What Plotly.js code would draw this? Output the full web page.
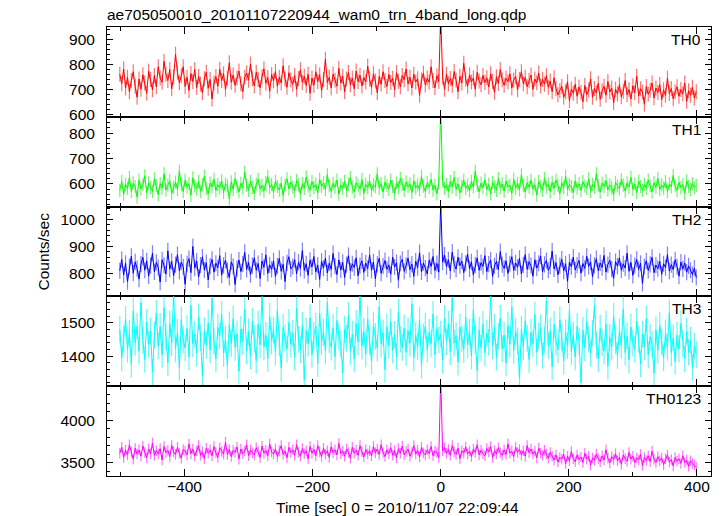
<!DOCTYPE html>
<html>
<head>
<meta charset="utf-8">
<script src="https://cdn.plot.ly/plotly-3.0.1.min.js"></script>
<style>html,body{margin:0;padding:0;background:#fff;}#chart{width:724px;height:516px;}</style>
</head>
<body>
<div id="chart"></div>
<script>
// Time bins: start (s) and bin width (s); 0 = 2010/11/07 22:09:44
const tStart = -501;
const binWidth = 3;

const panelNames = ["TH0", "TH1", "TH2", "TH3", "TH0123"];

const TH0 = [
760,722,781,705,748,690,735,770,712,668,
741,700,758,725,684,772,739,698,755,710,
790,745,728,812,760,735,779,702,750,840,
768,726,754,790,711,748,695,763,731,779,
707,752,720,686,742,768,704,739,661,725,
751,712,780,735,762,700,744,806,728,757,
716,745,773,722,690,748,765,736,801,742,
713,768,739,706,750,782,724,747,692,759,
734,771,712,748,725,794,741,708,766,737,
720,755,700,743,778,727,752,715,760,684,
745,716,770,731,758,695,739,820,727,748,
705,761,736,712,784,725,752,690,741,767,
718,745,702,773,730,756,713,747,729,792,
740,708,762,733,686,751,720,770,735,711,
759,727,744,698,766,732,710,755,738,781,
722,748,705,760,729,742,676,737,764,717,
745,728,790,735,706,754,731,1000,749,700,
760,722,743,715,771,736,690,752,725,804,
741,712,758,729,745,700,768,733,718,755,
727,746,709,762,731,688,750,723,779,738,
716,744,730,762,705,737,751,698,739,770,
722,748,710,735,757,700,741,726,765,713,
739,720,754,708,733,690,746,702,678,695,
712,668,690,730,655,701,684,720,672,709,
688,650,715,679,697,742,668,703,685,724,
660,694,712,676,731,689,705,646,700,681,
718,670,692,735,678,699,661,714,686,752,
673,702,689,640,711,680,696,725,665,705,
687,719,658,698,676,744,683,703,662,690,
710,672,699,681,725,652,694,676,708,665,
690
];

const TH1 = [
575,610,560,598,582,625,571,603,590,548,
615,580,597,632,566,604,586,571,620,593,
557,601,584,640,576,595,612,563,588,607,
579,650,597,570,615,588,601,556,624,592,
580,609,571,596,631,583,562,603,589,618,
574,597,585,612,566,600,593,541,608,579,
621,590,569,602,584,646,595,575,610,587,
563,599,618,580,594,572,605,629,586,598,
567,611,590,576,603,555,596,620,581,607,
588,572,614,596,560,601,583,628,592,575,
609,586,598,565,619,590,604,578,636,593,
571,602,587,615,560,596,583,610,574,599,
625,588,569,604,592,580,617,563,598,586,
612,575,596,589,640,584,601,568,607,593,
579,615,590,562,603,586,622,597,574,608,
589,600,566,613,584,596,578,630,591,570,
605,587,618,576,595,561,602,900,612,583,
597,571,609,588,626,579,600,565,592,614,
582,596,573,610,588,650,594,569,603,585,
617,578,598,561,606,590,575,621,586,600,
572,611,589,595,563,618,584,602,577,636,
593,568,605,587,614,580,597,556,609,591,
576,622,588,600,570,607,583,615,595,562,
604,586,631,578,597,590,566,612,584,601,
574,609,592,583,620,571,598,587,640,594,
568,603,589,613,577,596,585,558,606,592,
581,617,595,572,604,588,626,579,600,566,
610,590,575,598,583,615,593,569,605,587,
622,578,596,584,609,571,600,589,633,592,
574,606,585,597,563,612,590,578,601,586,
594
];

const TH2 = [
810,852,795,838,770,826,864,801,843,818,
779,835,860,812,847,790,829,875,806,841,
822,768,851,830,798,884,816,845,792,833,
870,809,842,825,760,836,855,803,900,820,
846,787,831,862,813,840,776,827,852,805,
838,821,866,794,830,849,811,785,843,826,
759,818,850,807,835,878,815,841,796,829,
858,812,837,781,846,823,869,800,832,815,
847,789,828,856,808,834,770,839,862,817,
826,851,799,842,819,885,811,836,793,849,
824,863,806,831,778,845,820,857,802,838,
815,874,827,796,850,813,841,785,833,866,
809,836,822,858,791,829,847,804,839,818,
869,812,843,780,834,856,801,827,848,815,
832,797,861,824,840,775,837,852,808,830,
857,814,835,789,846,822,877,806,839,820,
798,849,826,863,811,837,805,1060,842,868,
825,851,809,879,834,816,860,829,846,803,
838,872,817,843,795,831,858,812,840,826,
866,807,835,850,789,828,845,814,881,833,
819,847,800,836,862,811,839,823,856,798,
832,870,815,844,829,790,851,820,838,865,
806,834,848,812,827,883,817,840,795,829,
853,809,836,771,842,825,861,813,831,848,
801,837,819,864,826,843,788,830,855,810,
839,822,867,805,833,849,816,782,844,827,
858,812,836,820,875,808,841,793,829,852,
815,838,763,826,847,811,834,860,803,831,
818,845,797,836,822,870,809,833,814,851,
826,790,842,817,839,805,828,812,796,820,
785
];

const TH3 = [
1480,1395,1452,1510,1420,1468,1376,1535,1441,1490,
1415,1560,1447,1390,1502,1436,1475,1352,1463,1528,
1430,1489,1405,1545,1458,1380,1497,1440,1590,1422,
1471,1366,1509,1448,1425,1483,1398,1552,1437,1466,
1410,1518,1455,1340,1476,1432,1499,1418,1573,1445,
1392,1487,1461,1525,1408,1450,1372,1494,1438,1512,
1426,1467,1355,1481,1443,1540,1415,1473,1400,1505,
1452,1387,1496,1434,1580,1428,1462,1393,1519,1446,
1478,1412,1537,1440,1364,1486,1455,1421,1501,1435,
1468,1397,1543,1450,1419,1492,1330,1475,1438,1515,
1405,1462,1490,1378,1529,1444,1471,1416,1561,1449,
1427,1485,1399,1507,1458,1436,1350,1480,1453,1522,
1414,1466,1391,1498,1442,1586,1430,1474,1407,1511,
1445,1385,1493,1459,1424,1548,1437,1470,1360,1488,
1432,1503,1418,1465,1398,1532,1451,1426,1484,1411,
1476,1440,1557,1395,1462,1429,1508,1373,1457,1490,
1420,1471,1437,1525,1404,1482,1448,1466,1388,1513,
1443,1496,1413,1574,1439,1461,1382,1487,1452,1420,
1517,1434,1472,1401,1539,1447,1356,1478,1425,1495,
1410,1468,1441,1583,1430,1486,1397,1459,1514,1422,
1463,1379,1492,1436,1547,1418,1474,1445,1334,1481,
1428,1506,1453,1390,1471,1437,1524,1412,1460,1485,
1402,1448,1566,1431,1476,1368,1495,1442,1419,1509,
1455,1386,1470,1432,1537,1414,1463,1398,1489,1444,
1321,1478,1425,1503,1451,1409,1468,1552,1434,1392,
1484,1440,1415,1497,1370,1456,1428,1519,1447,1402,
1473,1433,1541,1411,1460,1389,1487,1439,1420,1505,
1450,1377,1466,1428,1512,1404,1458,1435,1349,1479,
1418,1492,1443,1395,1470,1426,1530,1410,1455,1384,
1463,1421,1498,1437,1392,1475,1412,1448,1366,1430,
1405
];

const TH0123 = [
3610,3680,3560,3645,3590,3710,3625,3540,3670,3600,
3650,3575,3695,3620,3555,3660,3605,3730,3585,3640,
3600,3665,3530,3690,3615,3645,3570,3705,3625,3595,
3680,3610,3550,3655,3635,3590,3720,3605,3660,3575,
3640,3700,3585,3625,3545,3670,3610,3650,3580,3690,
3615,3560,3675,3630,3600,3740,3595,3655,3570,3645,
3620,3685,3540,3660,3605,3635,3710,3580,3650,3615,
3590,3675,3630,3560,3695,3610,3645,3580,3720,3625,
3600,3660,3570,3640,3700,3595,3635,3555,3680,3615,
3650,3585,3710,3620,3575,3665,3605,3640,3545,3690,
3610,3655,3580,3700,3625,3570,3670,3600,3640,3560,
3685,3615,3650,3590,3725,3605,3635,3575,3660,3620,
3550,3680,3610,3645,3585,3700,3625,3565,3655,3600,
3640,3580,3690,3615,3660,3595,3710,3620,3570,3650,
3605,3675,3585,3640,3555,3665,3610,3695,3590,3630,
3660,3575,3620,3700,3600,3645,3565,3680,3615,3590,
3650,3605,3690,3580,3635,3620,3560,4500,3640,3675,
3610,3655,3585,3700,3625,3595,3670,3545,3640,3610,
3685,3600,3635,3570,3660,3620,3710,3590,3645,3605,
3580,3665,3625,3690,3560,3640,3600,3675,3615,3585,
3650,3595,3720,3610,3635,3570,3680,3620,3655,3590,
3640,3575,3700,3615,3660,3600,3635,3555,3670,3610,
3585,3645,3600,3550,3620,3575,3530,3590,3505,3560,
3540,3600,3485,3575,3520,3630,3545,3510,3590,3535,
3565,3500,3610,3540,3575,3470,3555,3525,3600,3545,
3510,3580,3530,3650,3550,3495,3570,3535,3605,3520,
3560,3480,3590,3545,3515,3620,3540,3575,3500,3555,
3530,3595,3465,3560,3525,3580,3510,3635,3540,3500,
3570,3520,3555,3475,3545,3590,3505,3535,3460,3560,
3515,3545,3490,3580,3500,3530,3455,3520,3490,3470,
3440
];

// Typical 1-sigma error (counts/sec) of each light curve
const errors = [30, 26, 30, 40, 62];

const seriesValues = [TH0, TH1, TH2, TH3, TH0123];
const colors = ["#ff0000", "#00ff00", "#0000ff", "#00ffff", "#ff00ff"];
const errColors = ["rgba(255,0,0,0.55)", "rgba(0,235,0,0.55)", "rgba(0,0,255,0.5)", "rgba(0,240,240,0.6)", "rgba(255,0,255,0.55)"];
const yRanges = [[590, 949], [511, 864], [715, 1048], [1310, 1579], [3341, 4402]];
const yDticks = [100, 100, 100, 100, 500];
const yMinor = [20, 20, 20, 20, 100];
const xRange = [-521, 422];

const FONT = "Liberation Sans, Arial, Helvetica, sans-serif";
const data = [];
const layout = {
  width: 724, height: 516,
  margin: {l: 107, r: 12.5, t: 27, b: 40},
  paper_bgcolor: "#fff", plot_bgcolor: "#fff",
  showlegend: false, hovermode: false,
  font: {family: FONT, size: 15.5, color: "#000"},
  title: {text: "ae705050010_20101107220944_wam0_trn_4band_long.qdp",
          xref: "paper", x: 0, xanchor: "left",
          yref: "container", y: 1 - 14.5/516, yanchor: "middle",
          font: {family: FONT, size: 15.5, color: "#000"}},
  annotations: []
};

const n = seriesValues.length;
for (let i = 0; i < n; i++) {
  const idx = i + 1;
  const xa = "xaxis" + (idx === 1 ? "" : idx);
  const ya = "yaxis" + (idx === 1 ? "" : idx);
  const xr = "x" + (idx === 1 ? "" : idx);
  const yr = "y" + (idx === 1 ? "" : idx);
  const vals = seriesValues[i];
  const times = vals.map((_, k) => tStart + k * binWidth);
  data.push({
    type: "scatter", mode: "lines",
    x: times, y: vals,
    xaxis: xr, yaxis: yr,
    line: {color: colors[i], width: 1},
    error_y: {type: "constant", value: errors[i], symmetric: true,
              color: errColors[i], thickness: 1.2, width: 0},
    hoverinfo: "skip"
  });
  const top = 1 - i / n, bot = 1 - (i + 1) / n;
  layout[xa] = {
    anchor: yr, range: xRange, domain: [0, 1],
    showgrid: false, zeroline: false,
    showline: true, linecolor: "#000", linewidth: 1, mirror: "ticks",
    ticks: "inside", ticklen: 7, tickwidth: 1, tickcolor: "#000",
    tick0: 0, dtick: 200,
    minor: {ticks: "inside", dtick: 100, tick0: 0, ticklen: 4, tickcolor: "#000", showgrid: false},
    showticklabels: i === n - 1,
    ticklabelstandoff: -4,
    tickfont: {family: FONT, size: 15.5, color: "#000"}
  };
  layout[ya] = {
    anchor: xr, domain: [bot, top], range: yRanges[i],
    showgrid: false, zeroline: false,
    showline: true, linecolor: "#000", linewidth: 1, mirror: "ticks",
    ticks: "inside", ticklen: 6, tickwidth: 1, tickcolor: "#000",
    tick0: 0, dtick: yDticks[i],
    minor: {ticks: "inside", dtick: yMinor[i], tick0: 0, ticklen: 3, tickcolor: "#000", showgrid: false},
    ticklabelstandoff: 8,
    tickfont: {family: FONT, size: 15.5, color: "#000"}
  };
  layout.annotations.push({
    text: panelNames[i], showarrow: false,
    xref: "paper", x: 1, xanchor: "right", xshift: -8,
    yref: yr + " domain", y: 1, yanchor: "top", yshift: -2,
    font: {family: FONT, size: 15.5, color: "#000"}
  });
}

layout.annotations.push({
  text: "Counts/sec", showarrow: false, textangle: -90,
  xref: "paper", x: (43 - 107) / 604.5, xanchor: "center",
  yref: "paper", y: 0.5, yanchor: "middle",
  font: {family: FONT, size: 15.5, color: "#000"}
});
layout.annotations.push({
  text: "Time [sec] 0 = 2010/11/07 22:09:44", showarrow: false,
  xref: "paper", x: (398 - 107) / 604.5, xanchor: "center",
  yref: "paper", y: (476 - 507) / 449, yanchor: "middle",
  font: {family: FONT, size: 15.5, color: "#000"}
});

Plotly.newPlot("chart", data, layout, {displayModeBar: false, staticPlot: true});
</script>
</body>
</html>
